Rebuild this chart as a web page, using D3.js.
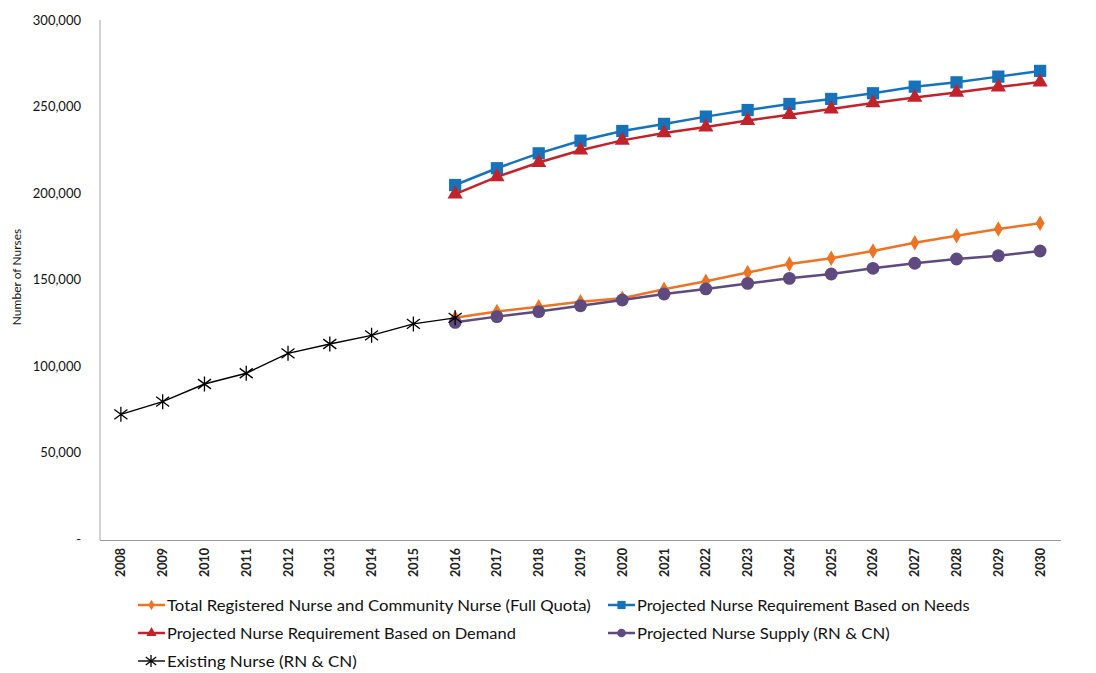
<!DOCTYPE html>
<html><head><meta charset="utf-8">
<script src="https://cdn.jsdelivr.net/npm/d3@7"></script>
<style>body{margin:0;background:#fff}svg{display:block}</style>
</head><body>
<svg id="c" width="1096" height="673"></svg>
<script>
const years = ["2008","2009","2010","2011","2012","2013","2014","2015","2016","2017","2018","2019","2020","2021","2022","2023","2024","2025","2026","2027","2028","2029","2030"];
const projYears = years.slice(8);
const yTicks = [0, 50000, 100000, 150000, 200000, 250000, 300000];
const existing = [72300, 79600, 89800, 96000, 107500, 112900, 117900, 124500, 128000];
const totalQuota = [128000, 131600, 134400, 137300, 139300, 144500, 149100, 154200, 159100, 162400, 166600, 171400, 175400, 179300, 182600];
const reqNeeds = [204700, 214400, 223000, 230300, 235900, 240000, 244200, 248000, 251500, 254400, 257700, 261500, 264000, 267300, 270600];
const reqDemand = [199500, 209400, 217700, 224800, 230500, 234800, 238200, 241900, 245300, 248600, 252100, 255300, 258200, 261300, 264200];
const supply = [125400, 128700, 131600, 135000, 138300, 141800, 144700, 147900, 150800, 153300, 156600, 159500, 162000, 163900, 166600];

const series = [
  {name:"Total Registered Nurse and Community Nurse (Full Quota)", x:projYears, v:totalQuota, color:"#EC7424", sym:d3.symbolDiamond, size:70, w:2.5, lx:138, ly:605, tl:424},
  {name:"Projected Nurse Requirement Based on Needs", x:projYears, v:reqNeeds, color:"#1673BB", sym:d3.symbolSquare, size:150, w:2.5, lx:608, ly:605, tl:333},
  {name:"Projected Nurse Requirement Based on Demand", x:projYears, v:reqDemand, color:"#C1232B", sym:d3.symbolTriangle, size:100, w:2.5, lx:138, ly:633, tl:349},
  {name:"Projected Nurse Supply (RN & CN)", x:projYears, v:supply, color:"#5E4A7F", sym:d3.symbolCircle, size:130, w:2.5, lx:608, ly:633, tl:253},
  {name:"Existing Nurse (RN & CN)", x:years.slice(0,9), v:existing, color:"#000000", sym:null, size:0, w:1.4, lx:138, ly:661, tl:190}
];

const svg = d3.select("#c");
const x = d3.scaleBand().domain(years).range([100, 1061]);
const y = d3.scaleLinear().domain([0, 300000]).range([539.5, 20]);
const cx = d => x(d) + x.bandwidth()/2;

// axes
svg.append("line").attr("x1",100).attr("x2",100).attr("y1",20).attr("y2",540).attr("stroke","#b5b5b5").attr("stroke-width",1.2);
svg.append("line").attr("x1",100).attr("x2",1061).attr("y1",540.5).attr("y2",540.5).attr("stroke","#9a9a9a").attr("stroke-width",1.2);

const fmt = d3.format(",");
svg.append("g").selectAll("text").data(yTicks).join("text")
  .attr("x",81).attr("y",d=>y(d)).attr("dy","0.35em").attr("text-anchor","end")
  .attr("font-family","Lato").attr("font-size",13).attr("fill","#111")
  .text(d=> d===0 ? "-" : fmt(d));

svg.append("text").attr("transform","translate(21,277) rotate(-90)").attr("text-anchor","middle")
  .attr("font-family","Lato").attr("font-size",12).attr("fill","#111").text("Number of Nurses");

svg.append("g").selectAll("text").data(years).join("text")
  .attr("transform",d=>`translate(${cx(d)+4.5},548) rotate(-90)`).attr("text-anchor","end")
  .attr("font-family","Lato").attr("font-weight","bold").attr("font-size",12.5).attr("fill","#222")
  .text(d=>d);

// star marker (asterisk)
function star(g, px, py, r, color){
  const p = d3.path();
  p.moveTo(px, py-r); p.lineTo(px, py+r);
  const a = r*0.87, b = r*0.5;
  p.moveTo(px-a, py-b*1.3); p.lineTo(px+a, py+b*1.3);
  p.moveTo(px-a, py+b*1.3); p.lineTo(px+a, py-b*1.3);
  g.append("path").attr("d",p.toString()).attr("stroke",color).attr("stroke-width",1.3).attr("fill","none");
}

const line = d3.line().x(d=>cx(d[0])).y(d=>y(d[1]));
series.forEach(s=>{
  const g = svg.append("g");
  const pts = s.x.map((k,i)=>[k,s.v[i]]);
  g.append("path").attr("d",line(pts)).attr("fill","none").attr("stroke",s.color).attr("stroke-width",s.w);
  pts.forEach(p=>{
    if (s.sym) {
      g.append("path").attr("d",d3.symbol(s.sym, s.size)()).attr("transform",`translate(${cx(p[0])},${y(p[1])})`).attr("fill",s.color);
    } else {
      star(g, cx(p[0]), y(p[1]), 7.5, s.color);
    }
  });
  // legend
  const lg = svg.append("g");
  lg.append("line").attr("x1",s.lx).attr("x2",s.lx+27).attr("y1",s.ly).attr("y2",s.ly).attr("stroke",s.color).attr("stroke-width",s.sym?2.5:1.4);
  if (s.sym) {
    lg.append("path").attr("d",d3.symbol(s.sym, s.size*0.45)()).attr("transform",`translate(${s.lx+13.5},${s.ly})`).attr("fill",s.color);
  } else {
    star(lg, s.lx+13, s.ly, 6, s.color);
  }
  const tg = lg.append("g").attr("transform",`translate(${s.lx+29},${s.ly})`);
  const t = tg.append("text").attr("x",0).attr("y",0).attr("dy","0.35em")
    .attr("font-family","Lato").attr("font-size",16).attr("fill","#111").text(s.name);
  const natural = t.node().getComputedTextLength();
  tg.attr("transform",`translate(${s.lx+29},${s.ly}) scale(${s.tl/natural},1)`);
});
</script>
</body></html>
